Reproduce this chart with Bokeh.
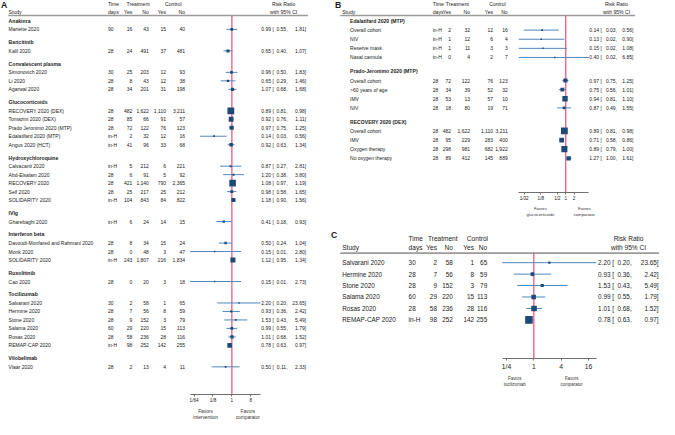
import math
from bokeh.plotting import figure
from bokeh.models import Range1d, LogScale, LogAxis, FixedTicker, ColumnDataSource, AllLabels
from bokeh.layouts import row, column
from bokeh.embed import file_html
from bokeh.resources import INLINE
from bokeh.core.properties import value

# ---------------- Panel A data ----------------
a_groups = ["Anakinra", "Baricitinib", "Convalescent plasma", "Glucocorticoids",
            "Hydroxychloroquine", "IVIg", "Interferon beta", "Ruxolitinib",
            "Tocilizumab", "Vilobelimab"]
a_group_n = [1, 1, 3, 5, 5, 1, 3, 1, 6, 1]
a_study = ["Mariette 2020", "Kalil 2020", "Simonovich 2020", "Li 2020", "Agarwal 2020",
           "RECOVERY 2020 (DEX)", "Tomazini 2020 (DEX)", "Prado Jeronimo 2020 (MTP)",
           "Edalatifard 2020 (MTP)", "Angus 2020 (HCT)", "Calvacanti 2020",
           "Abd-Elsalam 2020", "RECOVERY 2020", "Self 2020", "SOLIDARITY 2020",
           "Gharebaghi 2020", "Davoudi-Monfared and Rahmani 2020", "Monk 2020",
           "SOLIDARITY 2020", "Cao 2020", "Salvarani 2020", "Hermine 2020", "Stone 2020",
           "Salama 2020", "Rosas 2020", "REMAP-CAP 2020", "Vlaar 2020"]
a_time = ["90", "28", "30", "28", "28", "28", "28", "28", "in-H", "in-H", "in-H", "28", "28",
          "28", "in-H", "in-H", "28", "28", "in-H", "28", "30", "28", "28", "60", "28", "in-H", "28"]
a_trt_yes = [16, 24, 25, 8, 34, 482, 85, 72, 2, 41, 5, 6, 421, 25, 104, 6, 8, 0, 243, 0,
             2, 7, 9, 29, 58, 98, 2]
a_trt_no = [43, 491, 203, 43, 201, 1622, 66, 122, 32, 96, 212, 91, 1140, 217, 843, 24, 34,
            48, 1807, 20, 58, 56, 152, 220, 236, 252, 13]
a_ctl_yes = [15, 37, 12, 12, 31, 1110, 91, 76, 12, 33, 6, 5, 790, 25, 84, 14, 15, 3, 216, 3,
             1, 8, 3, 15, 28, 142, 4]
a_ctl_no = [40, 481, 93, 38, 198, 3211, 57, 123, 16, 68, 221, 92, 2365, 212, 822, 15, 24,
            47, 1834, 18, 65, 59, 79, 113, 116, 255, 11]
a_rr = [0.99, 0.65, 0.96, 0.65, 1.07, 0.89, 0.92, 0.97, 0.14, 0.92, 0.87, 1.20, 1.08, 0.98,
        1.18, 0.41, 0.50, 0.15, 1.12, 0.15, 2.20, 0.93, 1.53, 0.99, 1.01, 0.78, 0.50]
a_lo = [0.55, 0.40, 0.50, 0.29, 0.68, 0.81, 0.76, 0.75, 0.03, 0.63, 0.27, 0.38, 0.97, 0.58,
        0.90, 0.18, 0.24, 0.01, 0.95, 0.01, 0.20, 0.36, 0.43, 0.55, 0.68, 0.63, 0.11]
a_hi = [1.81, 1.07, 1.83, 1.46, 1.68, 0.98, 1.11, 1.25, 0.56, 1.34, 2.81, 3.80, 1.19, 1.65,
        1.56, 0.93, 1.04, 2.80, 1.34, 2.73, 23.65, 2.42, 5.49, 1.79, 1.52, 0.97, 2.33]
a_ticks = [1 / 64, 1 / 8, 1, 8]
a_tick_labels = ["1/64", "1/8", "1", "8"]
a_favors = ["Favors\nintervention", "Favors\ncomparator"]

# ---------------- Panel B data ----------------
b_groups = ["Edalatifard 2020 (MTP)", "Prado-Jeronimo 2020 (MTP)", "RECOVERY 2020 (DEX)"]
b_group_n = [4, 4, 4]
b_study = ["Overall cohort", "NIV", "Reserve mask", "Nasal cannula",
           "Overall cohort", ">60 years of age", "IMV", "NIV",
           "Overall cohort", "IMV", "Oxygen therapy", "No oxygen therapy"]
b_time = ["in-H", "in-H", "in-H", "in-H", "28", "28", "28", "28", "28", "28", "28", "28"]
b_trt_yes = [2, 1, 1, 0, 72, 34, 53, 18, 482, 95, 298, 89]
b_trt_no = [32, 12, 11, 4, 122, 39, 13, 80, 1622, 229, 981, 412]
b_ctl_yes = [12, 6, 3, 2, 76, 52, 57, 19, 1110, 283, 682, 145]
b_ctl_no = [16, 4, 3, 7, 123, 32, 10, 71, 3211, 400, 1922, 889]
b_rr = [0.14, 0.13, 0.15, 0.40, 0.97, 0.75, 0.94, 0.87, 0.89, 0.71, 0.89, 1.27]
b_lo = [0.03, 0.02, 0.02, 0.02, 0.75, 0.56, 0.81, 0.49, 0.81, 0.58, 0.79, 1.00]
b_hi = [0.56, 0.90, 1.08, 6.85, 1.25, 1.01, 1.10, 1.55, 0.98, 0.86, 1.00, 1.61]
b_ticks = [1 / 32, 1 / 8, 1 / 2, 1, 2]
b_tick_labels = ["1/32", "1/8", "1/2", "1", "2"]
b_favors = ["Favors\nglucocorticoids", "Favors\ncomparator"]

# ---------------- Panel C data ----------------
c_study = ["Salvarani 2020", "Hermine 2020", "Stone 2020", "Salama 2020", "Rosas 2020",
           "REMAP-CAP 2020"]
c_time = ["30", "28", "28", "60", "28", "in-H"]
c_trt_yes = [2, 7, 9, 29, 58, 98]
c_trt_no = [58, 56, 152, 220, 236, 252]
c_ctl_yes = [1, 8, 3, 15, 28, 142]
c_ctl_no = [65, 59, 79, 113, 116, 255]
c_rr = [2.20, 0.93, 1.53, 0.99, 1.01, 0.78]
c_lo = [0.20, 0.36, 0.43, 0.55, 0.68, 0.63]
c_hi = [23.65, 2.42, 5.49, 1.79, 1.52, 0.97]
c_ticks = [1 / 4, 1, 4, 16]
c_tick_labels = ["1/4", "1", "4", "16"]
c_favors = ["Favors\ntocilizumab", "Favors\ncomparator"]

# ---------------- styling ----------------
FONT = "Liberation Sans"
INK = "#1a1a1a"
CI_COL = "#5287bd"
SQ_COL = "#1c4a78"
RED = "#e2406c"
RULE = "#9b9b9b"
AXC = "#6f6f6f"

SX = 659 / 675
SY = 419 / 435


def fs(v):
    return f"{v * SY:.2f}px"


def make_fig(x0, x1, y0, y1, fw, fh, border_bottom, cx, k):
    p = figure(frame_width=fw, frame_height=fh, x_range=Range1d(x0, x1), y_range=Range1d(y1, y0),
               output_backend="svg", toolbar_location=None,
               x_axis_location=None, y_axis_location=None,
               min_border_left=0, min_border_right=0, min_border_top=0,
               min_border_bottom=border_bottom)
    p.grid.grid_line_color = None
    p.outline_line_color = None
    p.background_fill_color = "white"
    p.extra_x_ranges = {"rr": Range1d(2 ** ((x0 - cx) / k), 2 ** ((x1 - cx) / k))}
    p.extra_x_scales = {"rr": LogScale()}
    return p


def text(p, xs, ys, labels, size, align="left", bold=False, color=INK):
    src = ColumnDataSource(dict(x=list(xs), y=list(ys), t=[str(s) for s in labels]))
    p.text(x="x", y="y", text="t", source=src, text_font=value(FONT),
           text_font_size=value(fs(size)), text_align=align, text_baseline="middle",
           text_color=color, text_font_style="bold" if bold else "normal")


def row_positions(group_n, start, h, s, g):
    hy, iy = [], []
    y = start
    for gi, n in enumerate(group_n):
        if gi > 0:
            y += g
        hy.append(y)
        y += h
        for i in range(n):
            if i > 0:
                y += s
            iy.append(y)
    return hy, iy


def header(p, X, y1, y2, size):
    text(p, [X["study"]], [y2], ["Study"], size)
    text(p, [X["time"]] * 2, [y1, y2], ["Time", "days"], size)
    text(p, [X["trt_c"], X["ctl_c"]], [y1, y1], ["Treatment", "Control"], size, "center")
    text(p, [X["ty"], X["tn"], X["cy"], X["cn"]], [y2] * 4, ["Yes", "No", "Yes", "No"], size, "right")
    text(p, [X["rr_c"]] * 2, [y1, y2], ["Risk Ratio", "with 95% CI"], size, "center")
    p.segment(x0=[X["rule0"]], x1=[X["rule1"]], y0=[X["rule_y"]], y1=[X["rule_y"]],
              line_color=RULE, line_width=1.6)


def rows(p, X, ys, study, times, ty, tn, cy, cn, rr, lo, hi, size):
    n = len(ys)
    text(p, [X["item"]] * n, ys, study, size)
    text(p, [X["time"]] * n, ys, times, size)
    for key, arr in (("ty", ty), ("tn", tn), ("cy", cy), ("cn", cn)):
        text(p, [X[key]] * n, ys, [f"{v:,}" for v in arr], size, "right")
    text(p, [X["est"]] * n, ys, [f"{v:.2f}" for v in rr], size, "right")
    text(p, [X["br"]] * n, ys, ["["] * n, size)
    text(p, [X["lo"]] * n, ys, [f"{v:.2f}," for v in lo], size, "right")
    text(p, [X["hi"]] * n, ys, [f"{v:.2f}]" for v in hi], size, "right")


def forest(p, ys, rr, lo, hi, kk, y_top, y_axis):
    p.segment(x0=[1], x1=[1], y0=[y_top], y1=[y_axis], x_range_name="rr",
              line_color=RED, line_width=1.1)
    sizes = [max(1.4, kk * math.sqrt(3.92 / math.log(h / l))) for l, h in zip(lo, hi)]
    src = ColumnDataSource(dict(y=list(ys), rr=list(rr), lo=list(lo), hi=list(hi), s=sizes))
    p.segment(x0="lo", x1="hi", y0="y", y1="y", source=src, x_range_name="rr",
              line_color=CI_COL, line_width=1)
    p.scatter(x="rr", y="y", size="s", marker="square", source=src, x_range_name="rr",
              fill_color=SQ_COL, line_color=None)


def axes(p, ticks, labels, lo, hi, fav_x, fav_labels, cx, k, tick_size, fav_size, standoff,
         fav_standoff):
    ax = LogAxis(x_range_name="rr", ticker=FixedTicker(ticks=ticks, minor_ticks=[]),
                 bounds=(min(lo), max(hi)))
    ax.major_label_overrides = {t: l for t, l in zip(ticks, labels)}
    ax.major_label_policy = AllLabels()
    ax.axis_line_color = AXC
    ax.axis_line_width = 1
    ax.major_tick_line_color = AXC
    ax.major_tick_out = 2
    ax.major_tick_in = 0
    ax.minor_tick_out = 0
    ax.minor_tick_in = 0
    ax.major_label_standoff = standoff
    ax.major_label_text_font = FONT
    ax.major_label_text_font_size = fs(tick_size)
    ax.major_label_text_color = INK
    p.add_layout(ax, "below")
    fpos = [2 ** ((x - cx) / k) for x in fav_x]
    fav = LogAxis(x_range_name="rr", ticker=FixedTicker(ticks=fpos, minor_ticks=[]))
    fav.major_label_overrides = dict(zip(fpos, fav_labels))
    fav.major_label_policy = AllLabels()
    fav.axis_line_color = None
    fav.major_tick_line_color = None
    fav.minor_tick_line_color = None
    fav.major_tick_out = 0
    fav.major_tick_in = 0
    fav.minor_tick_out = 0
    fav.minor_tick_in = 0
    fav.major_label_standoff = fav_standoff
    fav.major_label_text_font = FONT
    fav.major_label_text_font_size = fs(fav_size)
    fav.major_label_text_color = "#333333"
    p.add_layout(fav, "below")


XS = 338
WA = round(XS * SX)
WB = 659 - WA

# ---------------- Panel A ----------------
A_AX = 409
A_CX, A_K = 237, 6.45
pA = make_fig(0, XS, 0, A_AX, WA, round(A_AX * SY), 25, A_CX, A_K)
XA = dict(study=8.3, item=8.3, time=110, ty=135, tn=152, cy=169.5, cn=189, trt_c=141,
          ctl_c=177, rr_c=290, est=277, br=278.5, lo=294, hi=313, rule0=8, rule1=315,
          rule_y=15.5)
text(pA, [0.5], [4.6], ["A"], 9, bold=True)
header(pA, XA, 3.8, 12.4, 5.3)
a_hy, a_iy = row_positions(a_group_n, 21, 9, 8.8, 13.3)
text(pA, [XA["study"]] * len(a_hy), a_hy, a_groups, 5.3, bold=True)
rows(pA, XA, a_iy, a_study, a_time, a_trt_yes, a_trt_no, a_ctl_yes, a_ctl_no,
     a_rr, a_lo, a_hi, 5.2)
forest(pA, a_iy, a_rr, a_lo, a_hi, 1.5, XA["rule_y"], A_AX)
axes(pA, a_ticks, a_tick_labels, a_lo, a_hi, [210, 253.3], a_favors, A_CX, A_K, 4.8, 5.0, 1, 3)

# ---------------- Panel B ----------------
B_AX = 199
B_CX, B_K = 579, 8.53
B_FH = round(B_AX * SY)
B_BOT = 30
pB = make_fig(XS, 675, 0, B_AX, WB, B_FH, B_BOT, B_CX, B_K)
XB = dict(study=350, item=358, time=442.7, ty=461.5, tn=481, cy=504.5, cn=519.5, trt_c=468,
          ctl_c=509, rr_c=631, est=613, br=614.5, lo=631.5, hi=648.3, rule0=348, rule1=650,
          rule_y=15.5)
text(pB, [342.5], [4.8], ["B"], 9, bold=True)
header(pB, XB, 3.6, 12, 5.3)
b_hy, b_iy = row_positions(b_group_n, 21, 9.7, 9.45, 14.2)
text(pB, [XB["item"]] * len(b_hy), b_hy, b_groups, 5.3, bold=True)
rows(pB, XB, b_iy, b_study, b_time, b_trt_yes, b_trt_no, b_ctl_yes, b_ctl_no,
     b_rr, b_lo, b_hi, 5.2)
forest(pB, b_iy, b_rr, b_lo, b_hi, 1.5, XB["rule_y"], B_AX)
axes(pB, b_ticks, b_tick_labels, b_lo, b_hi, [553, 598], b_favors, B_CX, B_K, 4.8, 4.4, 1, 2)

# ---------------- Panel C ----------------
C_TOP = (B_FH + B_BOT) / SY
C_AX = 372
C_CX, C_K = 546.3, 14.0
pC = make_fig(XS, 675, C_TOP, C_AX, WB, round((C_AX - C_TOP) * SY), 30, C_CX, C_K)
XC = dict(study=350, item=350, time=418, ty=447, tn=463.3, cy=485, cn=498.5, trt_c=453,
          ctl_c=488.5, rr_c=643.3, est=624.8, br=626.5, lo=646.5, hi=674, rule0=348, rule1=675,
          rule_y=262.3)
text(pC, [338.5], [243.5], ["C"], 9, bold=True)
header(pC, XC, 247.3, 257, 6.8)
c_iy = [272.3 + 11.9 * i for i in range(len(c_study))]
rows(pC, XC, c_iy, c_study, c_time, c_trt_yes, c_trt_no, c_ctl_yes, c_ctl_no,
     c_rr, c_lo, c_hi, 6.6)
forest(pC, c_iy, c_rr, c_lo, c_hi, 2.5, XC["rule_y"], C_AX)
axes(pC, c_ticks, c_tick_labels, c_lo, c_hi, [526.7, 585], c_favors, C_CX, C_K, 7.0, 4.6, 2, 3)

layout = row(pA, column(pB, pC))
open("out.html", "w").write(file_html(layout, INLINE))
